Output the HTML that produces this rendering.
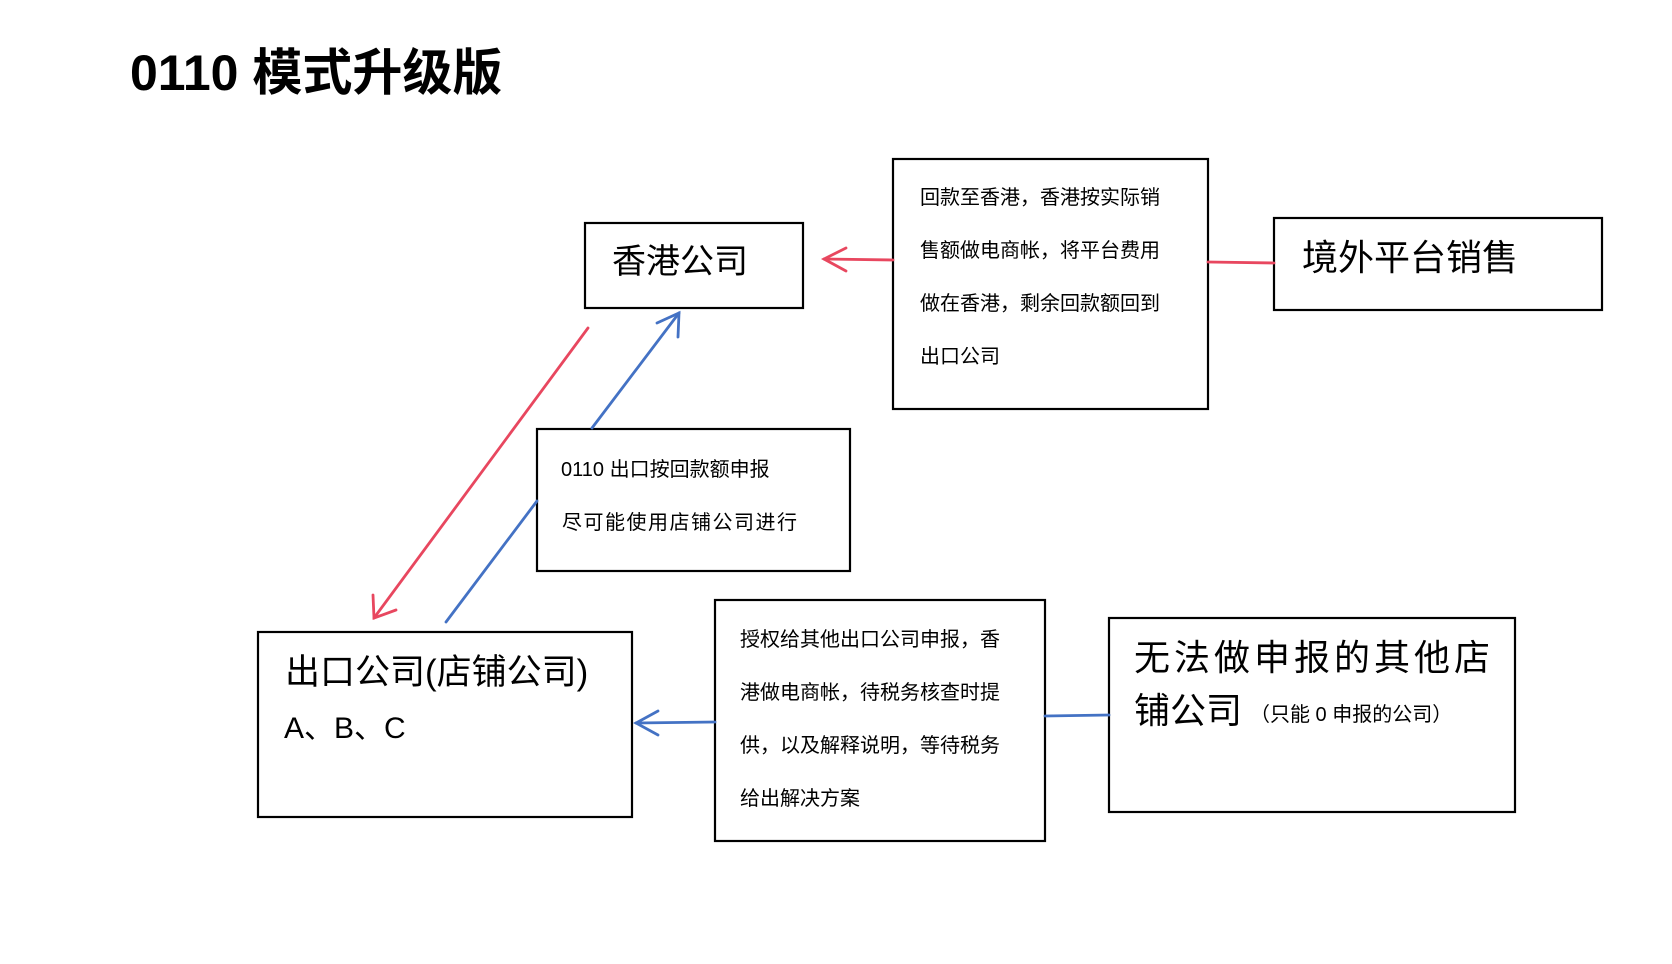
<!DOCTYPE html>
<html><head><meta charset="utf-8"><style>
body{margin:0;background:#fff;width:1672px;height:964px;overflow:hidden}
svg{display:block}
text{font-family:"Liberation Sans","Noto Sans CJK SC",sans-serif;fill:#000}
</style></head><body>
<svg width="1672" height="964" viewBox="0 0 1672 964" xmlns="http://www.w3.org/2000/svg">
<text x="130" y="90" font-size="50" font-weight="bold">0110 模式升级版</text>
<g fill="none" stroke="#000" stroke-width="2.2">
<rect x="585" y="223" width="218" height="85"/>
<rect x="893" y="159" width="315" height="250"/>
<rect x="1274" y="218" width="328" height="92"/>
<rect x="537" y="429" width="313" height="142"/>
<rect x="258" y="632" width="374" height="185"/>
<rect x="715" y="600" width="330" height="241"/>
<rect x="1109" y="618" width="406" height="194"/>
</g>
<text x="612" y="273" font-size="34">香港公司</text>
<g font-size="20">
<text x="920" y="204">回款至香港，香港按实际销</text>
<text x="920" y="257">售额做电商帐，将平台费用</text>
<text x="920" y="310">做在香港，剩余回款额回到</text>
<text x="920" y="363">出口公司</text>
<text x="561" y="476">0110 出口按回款额申报</text>
<text x="562" y="529" letter-spacing="1.5">尽可能使用店铺公司进行</text>
<text x="740" y="646">授权给其他出口公司申报，香</text>
<text x="740" y="699">港做电商帐，待税务核查时提</text>
<text x="740" y="752">供，以及解释说明，等待税务</text>
<text x="740" y="805">给出解决方案</text>
</g>
<text x="1302" y="270" font-size="36">境外平台销售</text>
<text x="285" y="684" font-size="35">出口公司(店铺公司)</text>
<text x="284" y="738" font-size="30">A、B、C</text>
<text x="1134" y="670" font-size="36" letter-spacing="4">无法做申报的其他店</text>
<text x="1134" y="723" font-size="36">铺公司</text>
<text x="1250" y="721" font-size="20">（只能 0 申报的公司）</text>
<g fill="none" stroke="#e8475f" stroke-width="2.8" stroke-linecap="round">
<line x1="1208" y1="262" x2="1274" y2="263"/>
<line x1="893" y1="260" x2="824" y2="259"/>
<polyline points="846,248 824,259 846,271"/>
<line x1="588" y1="328" x2="374" y2="618"/>
<polyline points="373,595 374,618 396,610"/>
</g>
<g fill="none" stroke="#4472c4" stroke-width="2.8" stroke-linecap="round">
<line x1="446" y1="622" x2="537" y2="501"/>
<line x1="592" y1="428" x2="679" y2="313"/>
<polyline points="657,323 679,313 678,337"/>
<line x1="1109" y1="715" x2="1045" y2="716"/>
<line x1="715" y1="722" x2="636" y2="723"/>
<polyline points="658,711 636,723 658,735"/>
</g>
</svg>
</body></html>
